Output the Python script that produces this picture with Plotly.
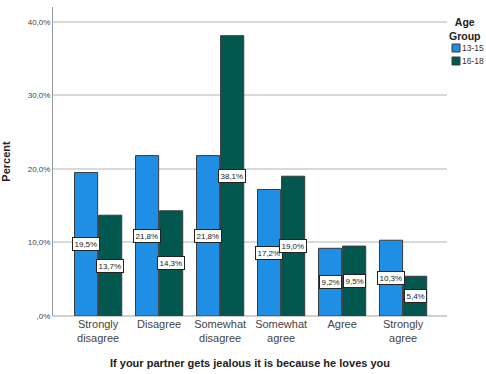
import plotly.graph_objects as go

categories = ["Strongly<br>disagree", "Disagree", "Somewhat<br>disagree",
              "Somewhat<br>agree", "Agree", "Strongly<br>agree"]
age_13_15 = [19.5, 21.8, 21.8, 17.2, 9.2, 10.3]
age_16_18 = [13.7, 14.3, 38.1, 19.0, 9.5, 5.4]
series_names = ["13-15", "16-18"]
y_tick_vals = [0, 10, 20, 30, 40]
y_tick_text = [",0%", "10,0%", "20,0%", "30,0%", "40,0%"]

colors = ["#1e8fe4", "#02584f"]
xs = list(range(len(categories)))
bargap = 0.21
half = (1 - bargap) / 4  # offset of each bar centre from the category centre

fig = go.Figure()
for name, vals, col in zip(series_names, [age_13_15, age_16_18], colors):
    fig.add_trace(go.Bar(
        x=xs, y=vals, name=name,
        marker=dict(color=col, line=dict(color="#3a3a3a", width=1)),
        hoverinfo="skip", showlegend=False,
    ))

def pct(v):
    return f"{v:.1f}".replace(".", ",") + "%"

annotations = []
for k, vals in enumerate([age_13_15, age_16_18]):
    off = -half if k == 0 else half
    for i, v in enumerate(vals):
        annotations.append(dict(
            x=i + off, y=v / 2, xref="x", yref="y",
            text=pct(v), showarrow=False,
            font=dict(size=8, color="#222", family="Liberation Sans"),
            bgcolor="white", bordercolor="#222", borderwidth=1, borderpad=1.5,
        ))

# Compact legend to the right of the plot area (paper coordinates)
W, H = 486, 374
ML, MR, MT, MB = 53, 39, 7, 58
pw, ph = W - ML - MR, H - MT - MB

def px_x(p):
    return (p - ML) / pw

def px_y(p):
    return 1 - (p - MT) / ph

annotations.append(dict(
    x=px_x(465), y=px_y(14), xref="paper", yref="paper",
    xanchor="center", yanchor="top", align="center", showarrow=False,
    text="<b>Age<br>Group</b>", font=dict(size=10.5, color="#222"),
))
shapes = []
for j, (name, col) in enumerate(zip(series_names, colors)):
    top = 44 + j * 13
    shapes.append(dict(
        type="rect", xref="paper", yref="paper",
        x0=px_x(452), x1=px_x(460), y0=px_y(top + 8), y1=px_y(top),
        fillcolor=col, line=dict(color="#3a3a3a", width=1),
    ))
    annotations.append(dict(
        x=px_x(460), y=px_y(top + 4), xref="paper", yref="paper",
        xanchor="left", yanchor="middle", showarrow=False,
        text=name, font=dict(size=8.5, color="#333"),
    ))

fig.update_layout(
    width=W, height=H,
    margin=dict(l=ML, r=MR, t=MT, b=MB, autoexpand=False),
    paper_bgcolor="white", plot_bgcolor="white",
    barmode="group", bargap=bargap, bargroupgap=0.04,
    font=dict(family="Liberation Sans", color="#333"),
    annotations=annotations, shapes=shapes,
    showlegend=False,
    xaxis=dict(
        range=[-0.74, 5.72], tickmode="array", tickvals=xs, ticktext=categories,
        showgrid=False, zeroline=False, showline=False, ticks="",
        tickfont=dict(size=11, color="#444"), automargin=False,
        title=dict(text="<b>If your partner gets jealous it is because he loves you</b>",
                   font=dict(size=11, color="#222"), standoff=16),
    ),
    yaxis=dict(
        range=[0, 42], tickmode="array", tickvals=y_tick_vals, ticktext=y_tick_text,
        showgrid=True, gridcolor="#d9d9d9", gridwidth=1.5,
        zeroline=True, zerolinecolor="#cfcfcf", zerolinewidth=1.5,
        showline=True, linecolor="#9a9a9a", linewidth=1,
        ticks="", tickfont=dict(size=8, color="#444"), automargin=False,
        title=dict(text="<b>Percent</b>", font=dict(size=11, color="#222"), standoff=14),
    ),
)

fig.write_html("out.html")
